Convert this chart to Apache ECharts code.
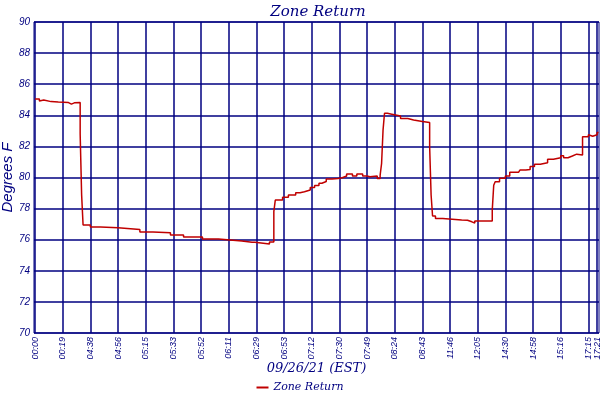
<!DOCTYPE html>
<html><head><meta charset="utf-8">
<style>html,body{margin:0;padding:0;background:#fff}#c{width:600px;height:400px}</style>
<script src="https://cdn.jsdelivr.net/npm/echarts@6.0.0/dist/echarts.min.js"></script>
</head><body><div id="c"></div>
<script>
const tickLabels = ['00:00','00:19','04:38','04:56','05:15','05:33','05:52','06:11','06:29','06:53','07:12','07:30','07:49','08:24','08:43','11:46','12:05','14:30','14:58','15:16','17:15','17:21'];
const tickSamples = [0,19,38,57,76,95,114,133,152,171,190,209,228,247,266,285,304,323,342,361,380,386];
const sampleIdx = [0,3,4,6,11,12,16,23,25,27,31,32,33,38,45,57,72,79,80,81,93,102,115,126,142,149,150,151,161,164,165,170,174,179,182,185,189,192,195,197,200,204,208,211,214,218,221,225,228,230,235,237,238,239,240,242,245,251,256,260,266,267,271,272,273,275,280,293,297,300,302,314,315,316,319,323,326,332,333,337,340,343,347,352,356,361,363,366,369,372,376,380,381,383,386,387];
const tempF = [85.05,84.92,84.98,84.88,84.95,84.85,84.82,84.72,84.8,84.82,82.8,78.9,76.95,76.82,76.77,76.65,76.5,76.42,76.5,76.45,76.3,76.17,76.04,75.92,75.83,75.72,75.83,75.72,75.85,77.8,78.55,78.73,78.87,79.02,79.08,79.2,79.35,79.48,79.63,79.74,79.9,79.94,79.98,80.1,80.23,80.1,80.23,80.1,80.05,80.1,79.94,80.15,80.9,83.05,84.13,84.07,83.95,83.8,83.7,83.6,83.7,83.53,81.98,78.87,77.52,77.37,77.27,77.25,77.15,77.07,77.2,77.9,79.5,79.73,79.95,80.1,80.33,80.23,80.48,80.52,80.7,80.85,80.95,81.17,81.27,81.4,81.27,81.38,81.5,81.45,82.62,82.75,82.65,82.75,82.9,82.9];

const navy = '#000080';
const red = '#c00000';
const xMin = -0.7, xMax = 387.3;
const lastN = tickSamples.length - 1;
function tickLabel(v) { const i = tickSamples.indexOf(v); return i >= 0 ? tickLabels[i] : ''; }
const xLabelStyle = {
  rotate: 90, margin: 4, hideOverlap: false, showMinLabel: true, showMaxLabel: true,
  fontFamily: 'Liberation Sans', fontStyle: 'italic', fontSize: 9, color: navy, formatter: tickLabel
};
const chart = echarts.init(document.getElementById('c'), null, {renderer: 'canvas'});
chart.setOption({
  animation: false,
  backgroundColor: '#fff',
  title: {
    text: 'Zone Return', left: 313, textAlign: 'center', top: 0,
    textStyle: {fontFamily: 'DejaVu Serif', fontStyle: 'italic', fontWeight: 'normal', fontSize: 15, color: navy}
  },
  legend: {
    bottom: 2, left: 'center', icon: 'rect', itemWidth: 12, itemHeight: 2, itemGap: 4,
    textStyle: {fontFamily: 'DejaVu Serif', fontStyle: 'italic', fontSize: 11, color: navy},
    data: ['Zone Return']
  },
  grid: {left: 34, right: 1, top: 22, bottom: 67, show: true, borderColor: navy, borderWidth: 1, outerBoundsMode: 'none', containLabel: false},
  xAxis: [{
    type: 'value', min: xMin, max: xMax, position: 'bottom',
    name: '09/26/21 (EST)', nameLocation: 'middle', nameGap: 29, nameMoveOverlap: false,
    nameTextStyle: {fontFamily: 'DejaVu Serif', fontStyle: 'italic', fontSize: 13, color: navy},
    axisLine: {show: false},
    axisTick: {show: false, customValues: tickSamples},
    axisLabel: Object.assign({customValues: tickSamples.slice(0, lastN)}, xLabelStyle),
    splitLine: {show: true, lineStyle: {color: navy, width: 1.5}}
  }, {
    type: 'value', min: xMin, max: xMax, position: 'bottom', offset: 0,
    axisLine: {show: false},
    axisTick: {show: false, customValues: tickSamples.slice(lastN)},
    axisLabel: Object.assign({customValues: tickSamples.slice(lastN)}, xLabelStyle),
    splitLine: {show: false}
  }],
  yAxis: {
    type: 'value', min: 70, max: 90, interval: 2,
    name: 'Degrees F', nameLocation: 'middle', nameGap: 19, nameMoveOverlap: false,
    nameTextStyle: {fontFamily: 'Liberation Sans', fontStyle: 'italic', fontSize: 15, color: navy},
    axisLine: {show: false}, axisTick: {show: false},
    axisLabel: {fontFamily: 'Liberation Sans', fontStyle: 'italic', fontSize: 10, color: navy, margin: 4},
    splitLine: {show: true, lineStyle: {color: navy, width: 1.5}}
  },
  series: [{
    name: 'Zone Return', type: 'line', step: 'end', symbol: 'none', showSymbol: false, xAxisIndex: 0,
    data: sampleIdx.map(function (x, i) { return [x, tempF[i]]; }),
    lineStyle: {color: red, width: 1.5}, itemStyle: {color: red}
  }]
});
</script>
</body></html>
